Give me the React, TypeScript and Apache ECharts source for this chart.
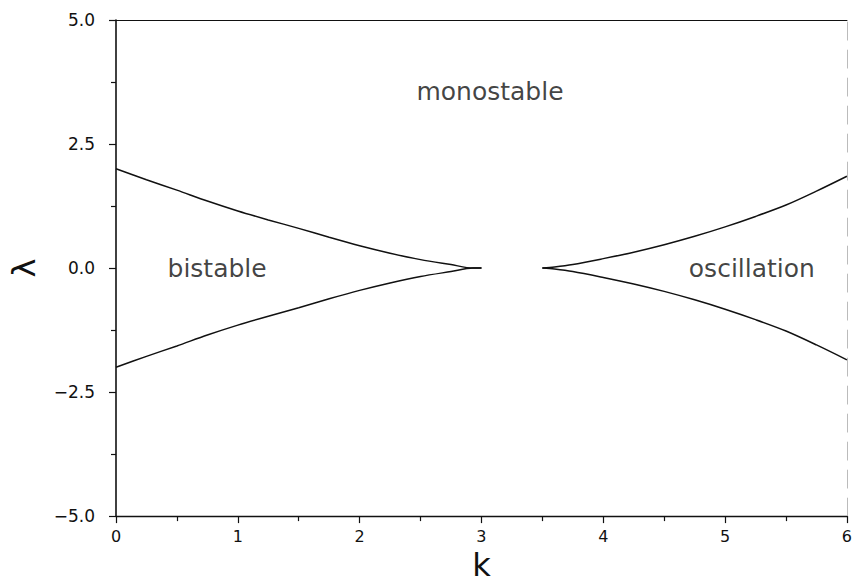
import React, { useEffect, useRef } from "react";
import * as echarts from "echarts";

// Boundary of the bistable region (upper branch; lower branch is its mirror)
const bistableK = [0, 0.25, 0.5, 0.75, 1, 1.25, 1.5, 1.75, 2, 2.25, 2.5, 2.75, 2.93, 3.0];
const bistableLambda = [2.0, 1.78, 1.57, 1.35, 1.15, 0.97, 0.8, 0.62, 0.45, 0.3, 0.17, 0.07, 0.0, 0.0];

// Boundary of the oscillation region (upper branch; lower branch is its mirror)
const oscK = [3.5, 3.6, 3.75, 4, 4.25, 4.5, 4.75, 5, 5.25, 5.5, 5.75, 6];
const oscLambda = [0.0, 0.02, 0.07, 0.19, 0.32, 0.47, 0.64, 0.83, 1.04, 1.27, 1.55, 1.85];

// Region names and where they sit (k, λ)
const regionNames = ["monostable", "bistable", "oscillation"];
const regionK = [3.07, 0.83, 5.22];
const regionLambda = [3.55, 0.0, 0.0];

const FONT = "DejaVu Sans";
const INK = "#111111";

function branch(ks: number[], ls: number[], sign: number) {
  return ks.map((k, i) => [k, sign * ls[i]]);
}

export default function App() {
  const ref = useRef<HTMLDivElement>(null);

  useEffect(() => {
    if (!ref.current) return;
    const chart = echarts.init(ref.current, undefined, { renderer: "svg" });

    const lineStyle = { color: INK, width: 1.5 };
    const curve = (data: number[][]) => ({
      type: "line",
      data,
      showSymbol: false,
      smooth: 0.3,
      lineStyle,
      silent: true,
    });

    chart.setOption({
      animation: false,
      backgroundColor: "#ffffff",
      grid: { left: 112, right: 1, top: 20, bottom: 61 },
      xAxis: [
        {
          type: "value",
          min: 0,
          max: 6,
          interval: 1,
          name: "k",
          nameLocation: "middle",
          nameGap: 28,
          nameTextStyle: { fontFamily: FONT, fontSize: 32, color: INK },
          axisLine: { show: true, onZero: false, lineStyle: { color: INK, width: 1.4 } },
          axisTick: { show: true, length: 7, lineStyle: { color: INK, width: 1.2 } },
          minorTick: { show: true, splitNumber: 2, length: 5, lineStyle: { color: INK, width: 1.2 } },
          splitLine: { show: false },
          axisLabel: { fontFamily: FONT, fontSize: 16, color: INK, margin: 12 },
        },
        {
          type: "value",
          position: "top",
          min: 0,
          max: 6,
          axisLine: { show: true, onZero: false, lineStyle: { color: INK, width: 1.2 } },
          axisTick: { show: false },
          axisLabel: { show: false },
          splitLine: { show: false },
        },
      ],
      yAxis: [
        {
          type: "value",
          min: -5,
          max: 5,
          interval: 2.5,
          name: "λ",
          nameLocation: "middle",
          nameGap: 76,
          nameRotate: 90,
          nameTextStyle: { fontFamily: FONT, fontSize: 32, color: INK },
          axisLine: { show: true, onZero: false, lineStyle: { color: INK, width: 1.6 } },
          axisTick: { show: true, length: 7, lineStyle: { color: INK, width: 1.2 } },
          minorTick: { show: true, splitNumber: 2, length: 5, lineStyle: { color: INK, width: 1.2 } },
          splitLine: { show: false },
          axisLabel: {
            fontFamily: FONT,
            fontSize: 17,
            color: INK,
            margin: 21,
            formatter: (v: number) => (v < 0 ? "\u2212" : "") + Math.abs(v).toFixed(1),
          },
        },
        {
          type: "value",
          position: "right",
          min: -5,
          max: 5,
          axisLine: { show: true, onZero: false, lineStyle: { color: "#bbbbbb", width: 1, type: [18, 10] } },
          axisTick: { show: false },
          axisLabel: { show: false },
          splitLine: { show: false },
        },
      ],
      series: [
        curve(branch(bistableK, bistableLambda, 1)),
        curve(branch(bistableK, bistableLambda, -1)),
        curve(branch(oscK, oscLambda, 1)),
        curve(branch(oscK, oscLambda, -1)),
        {
          type: "scatter",
          symbolSize: 0,
          silent: true,
          data: regionNames.map((n, i) => ({ name: n, value: [regionK[i], regionLambda[i]] })),
          label: {
            show: true,
            position: "inside",
            formatter: (p: any) => p.name,
            fontFamily: FONT,
            fontSize: 25,
            color: INK,
          },
        },
      ],
    });

    return () => chart.dispose();
  }, []);

  return (
    <div
      ref={ref}
      style={{ position: "fixed", left: 0, top: 0, width: 855, height: 586, background: "#fff" }}
    />
  );
}
